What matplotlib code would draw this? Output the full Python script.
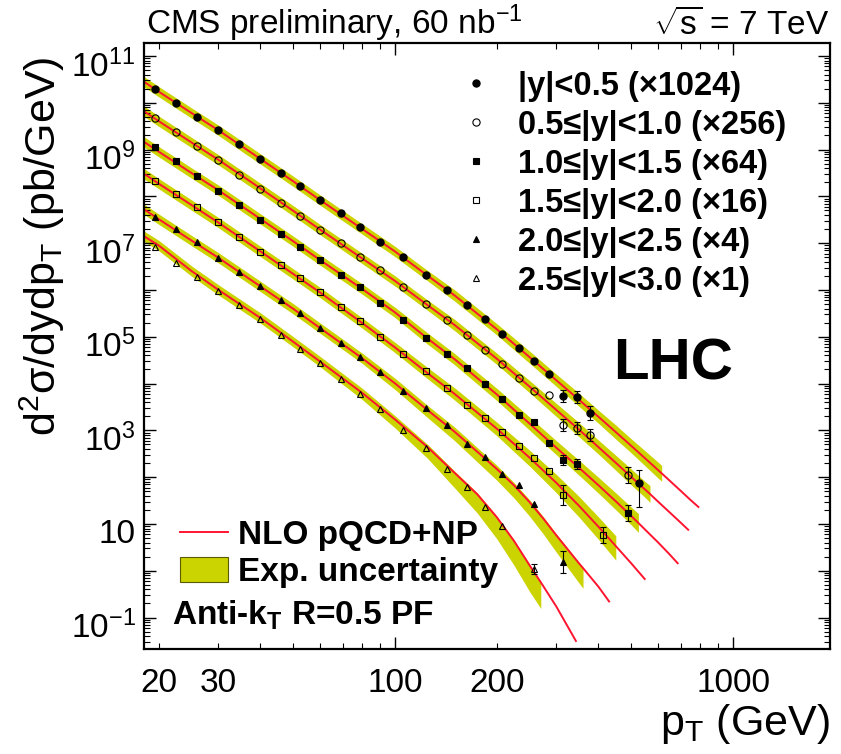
import numpy as np
import matplotlib
matplotlib.use("Agg")
import matplotlib.pyplot as plt
from matplotlib import font_manager
from matplotlib.ticker import FixedLocator, FuncFormatter, LogLocator
from matplotlib.transforms import ScaledTranslation
from matplotlib.lines import Line2D
from matplotlib.patches import Patch

plt.rcParams['font.family'] = ['Liberation Sans', 'DejaVu Sans']
plt.rcParams['mathtext.fontset'] = 'custom'
plt.rcParams['mathtext.rm'] = 'Liberation Sans'
plt.rcParams['mathtext.it'] = 'Liberation Sans:italic'
plt.rcParams['mathtext.bf'] = 'Liberation Sans:bold'
plt.rcParams['mathtext.default'] = 'regular'

nan = np.nan

# jet pT bin centres (GeV)
pt_bins = [19.5, 22.5, 26, 30, 34.5, 40, 46, 52.5, 60, 69, 79, 90.5, 105.5, 123.5,
           143, 163.5, 185, 208, 232.5, 258.5, 286, 315, 346, 378.5, 412.5, 449,
           487.5, 527.5]

# measured cross sections (pb/GeV, already scaled)
y1 = [1.94e10, 1.00e10, 5.05e9, 2.62e9, 1.30e9, 6.30e8, 3.21e8, 1.67e8, 8.38e7, 4.36e7,
      2.19e7, 1.08e7, 5.15e6, 2.14e6, 1.00e6, 4.78e5, 2.34e5, 1.15e5, 5.77e4, 3.04e4,
      1.60e4, 5.43e3, 5.10e3, 2.32e3, nan, nan, nan, 76.3]
y2 = [4.67e9, 2.32e9, 1.19e9, 5.85e8, 2.90e8, 1.44e8, 7.23e7, 3.81e7, 1.93e7, 9.86e6,
      5.15e6, 2.61e6, 1.16e6, 4.94e5, 2.29e5, 1.09e5, 5.22e4, 2.56e4, 1.32e4, 6.95e3,
      5.71e3, 1.30e3, 1.11e3, 798, nan, nan, 111, nan]
y3 = [1.12e9, 5.57e8, 2.75e8, 1.32e8, 6.39e7, 3.13e7, 1.61e7, 8.42e6, 4.42e6, 2.13e6,
      1.13e6, 5.36e5, 2.23e5, 9.29e4, 4.38e4, 2.10e4, 9.95e3, 4.69e3, 2.13e3, 1.48e3,
      538, 233, 191, nan, nan, nan, 16.9, nan]
y4 = [2.16e8, 1.12e8, 5.79e7, 2.77e7, 1.36e7, 6.49e6, 3.34e6, 1.76e6, 8.85e5, 4.23e5,
      2.18e5, 1.01e5, 4.19e4, 1.86e4, 7.85e3, 3.57e3, 1.84e3, 925, 453, 257,
      136, 41.7, nan, nan, 5.82, nan, nan, nan]
y5 = [3.68e7, 2.01e7, 1.04e7, 4.94e6, 2.48e6, 1.23e6, 5.97e5, 3.15e5, 1.52e5, 7.38e4,
      3.65e4, 1.74e4, 6.95e3, 2.94e3, 1.30e3, 512, 270, 117, 68.1, 26.7,
      nan, 1.56, nan, nan, nan, nan, nan, nan]
y6 = [8.42e6, 3.78e6, 1.94e6, 9.29e5, 4.67e5, 2.34e5, 1.07e5, 5.41e4, 2.72e4, 1.25e4,
      6.05e3, 2.90e3, 1.04e3, 421, 146, 60.3, 23.1, 9.06, nan, 1.09,
      nan, nan, nan, nan, nan, nan, nan, nan]

# visible error bars at high pT: bin index -> (low, high)
err1 = {21: (4.05e3, 7.28e3), 22: (3.81e3, 6.83e3), 23: (1.65e3, 3.27e3), 27: (23, 142)}
err2 = {21: (970, 1.74e3), 22: (828, 1.49e3), 23: (596, 1.07e3), 26: (75, 164)}
err3 = {21: (182, 298), 22: (149, 244), 26: (11.4, 25)}
err4 = {21: (25.4, 68.4), 24: (3.93, 8.61)}
err5 = {21: (0.91, 2.68)}
err6 = {19: (0.85, 1.40)}

# NLO pQCD+NP curves
pt_nlo1 = [18, 20, 25, 30, 40, 50, 60, 80, 100, 125, 150, 200, 250, 300, 350, 400, 450,
           500, 550, 600, 615, 650, 700, 750, 790]
nlo1 = [2.88e10, 1.73e10, 6.05e9, 2.60e9, 6.30e8, 2.10e8, 8.38e7, 2.01e7, 6.65e6, 2.01e6,
        7.67e5, 1.45e5, 3.68e4, 1.18e4, 4.53e3, 1.95e3, 920, 467, 251, 142, 121, 83.8,
        51.2, 32.2, 23.1]
pt_nlo2 = [18, 20, 25, 30, 40, 50, 60, 80, 100, 125, 150, 200, 250, 300, 350, 400, 450,
           500, 550, 568, 600, 650, 700, 737]
nlo2 = [6.75e9, 4.05e9, 1.42e9, 6.08e8, 1.48e8, 4.92e7, 1.96e7, 4.71e6, 1.56e6, 4.71e5,
        1.79e5, 3.40e4, 8.63e3, 2.74e3, 1.04e3, 438, 203, 101, 54.1, 43.8, 30.1, 17.6,
        10.7, 7.52]
pt_nlo3 = [18, 20, 25, 30, 40, 50, 60, 80, 100, 125, 150, 200, 250, 300, 350, 400, 450,
           500, 525, 550, 600, 650, 686]
nlo3 = [1.50e9, 9.02e8, 3.16e8, 1.36e8, 3.29e7, 1.10e7, 4.38e6, 1.05e6, 3.32e5, 9.10e4,
        3.34e4, 5.88e3, 1.40e3, 427, 160, 67.1, 30.5, 14.8, 10.5, 7.52, 4.05, 2.22, 1.45]
pt_nlo4 = [18, 20, 25, 30, 40, 50, 60, 80, 100, 125, 150, 200, 250, 300, 350, 400, 450,
           500, 548]
nlo4 = [3.12e8, 1.87e8, 6.55e7, 2.77e7, 6.65e6, 2.20e6, 8.85e5, 1.97e5, 5.91e4, 1.66e4,
        6.03e3, 1.09e3, 262, 75.9, 24.6, 8.71, 3.37, 1.44, 0.668]
pt_nlo5 = [18, 20, 25, 30, 40, 50, 60, 80, 100, 125, 150, 200, 225, 250, 275, 300, 350,
           360, 400, 430]
nlo5 = [5.43e7, 3.26e7, 1.14e7, 4.90e6, 1.19e6, 3.96e5, 1.54e5, 3.47e4, 1.01e4, 2.69e3,
        938, 150, 66.8, 29.4, 12.9, 5.74, 1.45, 1.14, 0.455, 0.221]
pt_nlo6 = [18, 20, 25, 30, 40, 50, 60, 80, 100, 125, 150, 175, 200, 225, 250, 270, 300, 343]
nlo6 = [1.44e7, 8.93e6, 2.55e6, 1.01e6, 2.52e5, 7.82e4, 2.96e4, 6.30e3, 1.71e3, 435,
        124, 43.4, 14.0, 4.34, 1.32, 0.568, 0.173, 0.0316]

# experimental uncertainty band, in decades above / below the curve (first nodes only)
up1 = [0.11, 0.11, 0.11, 0.11, 0.11, 0.11, 0.11, 0.11, 0.11, 0.11, 0.12, 0.12, 0.13, 0.13,
       0.14, 0.14, 0.15, 0.15, 0.16, 0.17, 0.17]
dn1 = up1
up2 = [0.11, 0.11, 0.11, 0.11, 0.11, 0.11, 0.11, 0.11, 0.11, 0.11, 0.12, 0.12, 0.13, 0.14,
       0.15, 0.15, 0.16, 0.17, 0.17, 0.18]
dn2 = up2
up3 = [0.11, 0.11, 0.11, 0.11, 0.11, 0.11, 0.11, 0.11, 0.11, 0.12, 0.12, 0.13, 0.14, 0.15,
       0.16, 0.17, 0.18, 0.19, 0.20]
dn3 = up3
up4 = [0.11, 0.11, 0.11, 0.11, 0.11, 0.11, 0.11, 0.11, 0.11, 0.12, 0.13, 0.14, 0.16, 0.18,
       0.20, 0.21, 0.22]
dn4 = [0.11, 0.11, 0.11, 0.11, 0.11, 0.11, 0.11, 0.11, 0.11, 0.12, 0.13, 0.15, 0.18, 0.21,
       0.24, 0.27, 0.30]
up5 = [0.11, 0.11, 0.11, 0.11, 0.11, 0.11, 0.11, 0.11, 0.11, 0.10, 0.10, 0.08, 0.06, 0.05,
       0.04, 0.03, 0.02, 0.02]
dn5 = [0.11, 0.11, 0.11, 0.11, 0.11, 0.11, 0.11, 0.11, 0.13, 0.16, 0.19, 0.24, 0.27, 0.30,
       0.33, 0.36, 0.42, 0.43]
up6 = [0.11, 0.11, 0.11, 0.11, 0.11, 0.11, 0.11, 0.10, 0.08, 0.06, 0.04, 0.03, 0.02, 0.01,
       0.0, 0.0]
dn6 = [0.11, 0.11, 0.11, 0.11, 0.11, 0.11, 0.11, 0.14, 0.18, 0.24, 0.32, 0.40, 0.46, 0.52,
       0.56, 0.56]

labels = ['|y|<0.5 (×1024)', '0.5≤|y|<1.0 (×256)', '1.0≤|y|<1.5 (×64)',
          '1.5≤|y|<2.0 (×16)', '2.0≤|y|<2.5 (×4)', '2.5≤|y|<3.0 (×1)']

band_color = '#cbd300'
red = '#ff1430'

marker_styles = [
    dict(marker='o', ms=5.2, mfc='black', mec='black', mew=0.8),
    dict(marker='o', ms=5.2, mfc='none', mec='black', mew=0.8),
    dict(marker='s', ms=4.8, mfc='black', mec='black', mew=0.8),
    dict(marker='s', ms=4.8, mfc='none', mec='black', mew=0.8),
    dict(marker='^', ms=4.6, mfc='black', mec='black', mew=0.8),
    dict(marker='^', ms=4.6, mfc='none', mec='black', mew=0.8),
]

series = [
    (y1, err1, pt_nlo1, nlo1, up1, dn1),
    (y2, err2, pt_nlo2, nlo2, up2, dn2),
    (y3, err3, pt_nlo3, nlo3, up3, dn3),
    (y4, err4, pt_nlo4, nlo4, up4, dn4),
    (y5, err5, pt_nlo5, nlo5, up5, dn5),
    (y6, err6, pt_nlo6, nlo6, up6, dn6),
]

fig = plt.figure(figsize=(8.41, 7.54), dpi=100)
ax = fig.add_axes([0.1712, 0.1393, 0.8157, 0.8037])
ax.set_xscale('log')
ax.set_yscale('log')

handles = []
for (yv, err, ptn, nlo, up, dn), ms, lab in zip(series, marker_styles, labels):
    ptn = np.array(ptn)
    nlo = np.array(nlo)
    nb = len(up)
    lo = nlo[:nb] * 10 ** (-np.array(dn))
    hi = nlo[:nb] * 10 ** np.array(up)
    ax.fill_between(ptn[:nb], lo, hi, color=band_color, lw=0, zorder=1)
    ax.plot(ptn, nlo, color=red, lw=1.4, zorder=2)
    ax.plot(pt_bins, yv, ls='none', zorder=4, **ms)
    if err:
        idx = sorted(err)
        xe = [pt_bins[i] for i in idx]
        ye = [yv[i] for i in idx]
        yerr = [[yv[i] - err[i][0] for i in idx], [err[i][1] - yv[i] for i in idx]]
        ax.errorbar(xe, ye, yerr=yerr, fmt='none', ecolor='black', elinewidth=0.8,
                    capsize=2, capthick=0.8, zorder=3)
    handles.append(Line2D([], [], ls='none', **ms))

ax.set_xlim(18.09, 1936)
ax.set_ylim(0.02133, 1.897e11)

# ticks in ROOT style
ax.xaxis.set_major_locator(FixedLocator([100, 1000]))
ax.xaxis.set_minor_locator(FixedLocator([20, 30, 40, 50, 60, 70, 80, 90,
                                         200, 300, 400, 500, 600, 700, 800, 900]))
ax.xaxis.set_major_formatter(FuncFormatter(lambda v, p: '%d' % round(v)))
x_minor_labels = {20: '20', 30: '30', 200: '200'}
ax.xaxis.set_minor_formatter(FuncFormatter(lambda v, p: x_minor_labels.get(int(round(v)), '')))

def ylab(v, p):
    k = int(round(np.log10(v)))
    if k % 2 == 0:
        return ''
    if k == 1:
        return '10'
    return '10$^{%d}$' % k

ax.yaxis.set_major_locator(FixedLocator([10.0 ** k for k in range(-2, 12)]))
ax.yaxis.set_minor_locator(LogLocator(base=10, subs=np.arange(2, 10), numticks=40))
ax.yaxis.set_major_formatter(FuncFormatter(ylab))
ax.yaxis.set_minor_formatter(FuncFormatter(lambda v, p: ''))

ax.tick_params(which='both', direction='in', top=True, right=True, labelsize=24)
ax.tick_params(which='major', length=8.6, width=1.0)
ax.tick_params(which='minor', length=4.3, width=0.8)
ax.tick_params(axis='x', which='both', pad=14)
ax.tick_params(axis='y', which='both', pad=6)
for sp in ax.spines.values():
    sp.set_linewidth(1.6)

ax.set_xlabel('p$_{T}$ (GeV)', fontsize=31, loc='right')
ax.xaxis.set_label_coords(1.0, -0.088)
ax.set_ylabel('d$^{2}$σ/dydp$_{T}$ (pb/GeV)', fontsize=31)
ax.yaxis.set_label_coords(-0.112, 0.665)

leg1 = ax.legend(handles, labels, loc='upper left', bbox_to_anchor=(0.4603, 0.954),
                 frameon=False, prop={'weight': 'bold', 'size': 23.5},
                 handlelength=1.0, handletextpad=0.8, labelspacing=0.245,
                 borderpad=0, borderaxespad=0)

handles2 = [Line2D([], [], color=red, lw=1.4),
            Patch(facecolor=band_color, edgecolor='#5a5a00', lw=0.8)]
leg2 = ax.legend(handles2, ['NLO pQCD+NP', 'Exp. uncertainty'], loc='upper left',
                 bbox_to_anchor=(0.0525, 0.2137), frameon=False,
                 prop={'weight': 'bold', 'size': 24}, handlelength=1.45,
                 handleheight=0.8, handletextpad=0.3, labelspacing=0.18,
                 borderpad=0, borderaxespad=0)
ax.add_artist(leg1)

ax.text(0.041, 0.055, r'Anti-k$_\mathbf{T}$ R=0.5 PF', transform=ax.transAxes,
        fontsize=24, weight='bold', va='center', ha='left')
ax.text(0.6837, 0.4439, 'LHC', transform=ax.transAxes, fontsize=42, weight='bold',
        va='baseline', ha='left')

names = {f.name for f in font_manager.fontManager.ttflist}
head_font = 'Liberation Sans Narrow' if 'Liberation Sans Narrow' in names else 'Liberation Sans'
ax.text(0.003, 1.014, 'CMS preliminary, 60 nb$^{-1}$', transform=ax.transAxes,
        fontsize=24, family=[head_font, 'DejaVu Sans'], va='baseline', ha='left')
ax.text(1.0, 1.014, r'$\sqrt{s}$ = 7 TeV', transform=ax.transAxes,
        fontsize=24, family=[head_font, 'DejaVu Sans'], va='baseline', ha='right')

# ROOT places the y labels a little below their ticks
fig.canvas.draw()
shift = ScaledTranslation(0, -7 / 100, fig.dpi_scale_trans)
for t in ax.yaxis.get_major_ticks():
    t.label1.set_transform(t.label1.get_transform() + shift)

fig.savefig('out.png', dpi=100)
